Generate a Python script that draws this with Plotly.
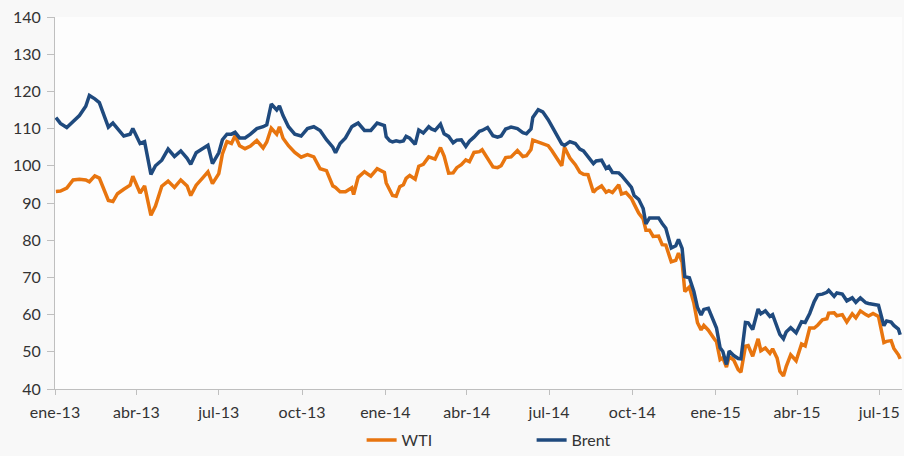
import plotly.graph_objects as go

dates_2013 = ["2013-01-02","2013-01-07","2013-01-14","2013-01-21","2013-01-28",
    "2013-02-04","2013-02-08","2013-02-14","2013-02-19","2013-02-25",
    "2013-03-01","2013-03-06","2013-03-11","2013-03-18","2013-03-25","2013-03-28",
    "2013-04-05","2013-04-10","2013-04-17","2013-04-22","2013-04-29",
    "2013-05-06","2013-05-13","2013-05-20","2013-05-27","2013-05-31",
    "2013-06-06","2013-06-13","2013-06-19","2013-06-24",
    "2013-07-01","2013-07-05","2013-07-10","2013-07-15","2013-07-19","2013-07-24","2013-07-30",
    "2013-08-05","2013-08-12","2013-08-19","2013-08-23","2013-08-28",
    "2013-09-03","2013-09-06","2013-09-10","2013-09-16","2013-09-23","2013-09-30",
    "2013-10-07","2013-10-14","2013-10-21","2013-10-28",
    "2013-11-04","2013-11-07","2013-11-12","2013-11-18","2013-11-25","2013-11-27",
    "2013-12-02","2013-12-09","2013-12-16","2013-12-23","2013-12-31"]
brent_2013 = [113.0,111.4,110.3,112.0,113.5,
    116.0,118.9,118.0,117.0,113.0,
    110.4,111.5,110.0,108.0,108.5,110.0,
    106.0,106.5,97.7,100.0,101.5,
    104.5,102.5,104.0,102.0,100.4,
    103.5,104.5,105.5,100.6,
    103.5,107.0,108.5,108.5,109.0,107.5,107.5,
    108.5,110.0,110.5,111.0,116.6,
    115.0,116.1,113.5,110.5,108.5,108.0,
    110.0,110.5,109.5,107.0,
    105.0,103.5,106.0,107.5,110.5,110.8,
    111.5,109.5,109.5,111.5,110.8]
wti_2013 = [93.1,93.2,94.0,96.2,96.4,
    96.2,95.7,97.3,96.7,93.1,
    90.7,90.4,92.5,93.7,94.8,97.2,
    92.7,94.6,86.7,89.2,94.5,
    95.9,94.2,96.2,94.6,92.0,
    94.8,96.7,98.4,95.2,
    97.9,103.2,106.5,106.0,108.1,105.4,104.6,
    105.3,106.8,104.8,106.4,110.1,
    108.5,110.5,107.4,105.4,103.6,102.3,
    103.0,102.4,99.2,98.7,
    94.6,94.2,93.0,93.0,94.1,92.3,
    96.9,98.4,97.2,99.2,98.2]

dates_2014 = ["2014-01-02","2014-01-06","2014-01-09","2014-01-13","2014-01-17","2014-01-21","2014-01-24","2014-01-28",
    "2014-02-03","2014-02-07","2014-02-12","2014-02-18","2014-02-21","2014-02-25",
    "2014-03-03","2014-03-07","2014-03-12","2014-03-17","2014-03-21","2014-03-26","2014-03-31",
    "2014-04-04","2014-04-09","2014-04-15","2014-04-18","2014-04-24","2014-04-30",
    "2014-05-05","2014-05-09","2014-05-14","2014-05-20","2014-05-27",
    "2014-06-02","2014-06-06","2014-06-11","2014-06-13","2014-06-19","2014-06-24","2014-06-30",
    "2014-07-04","2014-07-09","2014-07-15","2014-07-18","2014-07-24","2014-07-30",
    "2014-08-04","2014-08-08","2014-08-13","2014-08-19","2014-08-22","2014-08-28",
    "2014-09-02","2014-09-05","2014-09-09","2014-09-16","2014-09-19","2014-09-24","2014-09-30",
    "2014-10-03","2014-10-08","2014-10-13","2014-10-16","2014-10-20","2014-10-24","2014-10-30",
    "2014-11-03","2014-11-07","2014-11-13","2014-11-18","2014-11-21","2014-11-25","2014-11-28",
    "2014-12-03","2014-12-08","2014-12-12","2014-12-16","2014-12-19","2014-12-24","2014-12-31"]
brent_2014 = [107.8,106.7,106.4,106.7,106.5,106.7,107.9,107.4,
    105.8,109.6,108.8,110.5,109.9,109.5,
    111.2,108.6,107.9,106.2,106.9,107.0,105.2,
    106.6,107.7,109.3,109.5,110.3,108.1,
    107.7,108.0,109.9,110.4,110.0,
    108.9,108.6,109.9,113.0,115.1,114.5,112.4,
    110.6,108.3,105.9,105.5,106.5,106.0,
    104.5,104.0,102.5,100.6,101.3,101.5,
    99.3,99.8,98.2,98.1,97.4,96.0,94.2,
    92.0,91.0,88.5,84.4,86.0,86.0,86.0,
    84.5,83.2,77.9,78.5,80.2,77.8,70.2,
    69.9,66.2,61.9,59.9,61.4,61.7,57.3]
wti_2014 = [95.4,93.4,92.0,91.8,94.4,94.9,96.6,97.4,
    96.4,99.9,100.4,102.4,102.2,101.8,
    104.9,102.6,98.0,98.1,99.5,100.3,101.6,
    101.1,103.6,103.8,104.3,101.9,99.7,
    99.5,100.0,102.2,102.4,104.1,
    102.5,102.7,104.4,106.9,106.4,106.0,105.4,
    104.1,102.3,100.0,105.0,102.1,100.3,
    98.3,97.7,97.6,92.9,93.7,94.6,
    92.9,93.3,92.8,94.9,92.4,92.8,91.2,
    89.7,87.3,85.7,82.7,82.7,81.0,81.1,
    78.8,78.7,74.2,74.6,76.5,74.1,66.2,
    67.4,63.1,57.8,55.9,57.1,55.8,53.3]

dates_2015 = ["2015-01-02","2015-01-06","2015-01-09","2015-01-13","2015-01-16","2015-01-21","2015-01-26","2015-01-29",
    "2015-02-03","2015-02-06","2015-02-11","2015-02-17","2015-02-20","2015-02-25",
    "2015-03-02","2015-03-05","2015-03-10","2015-03-13","2015-03-17","2015-03-20","2015-03-25","2015-03-31",
    "2015-04-06","2015-04-10","2015-04-15","2015-04-20","2015-04-24","2015-04-29",
    "2015-05-04","2015-05-06","2015-05-12","2015-05-15","2015-05-21","2015-05-26",
    "2015-06-01","2015-06-05","2015-06-10","2015-06-16","2015-06-19","2015-06-24","2015-06-30",
    "2015-07-06","2015-07-09","2015-07-14","2015-07-17","2015-07-22","2015-07-24"]
brent_2015 = [56.4,51.1,50.1,46.6,50.2,49.0,48.2,48.1,
    57.9,57.8,56.0,61.5,60.2,61.0,
    59.5,60.0,56.4,54.7,53.5,55.3,56.5,55.1,
    58.1,57.9,60.3,63.5,65.3,65.5,
    66.0,66.5,64.9,65.8,65.5,63.7,
    64.5,63.3,64.5,63.2,63.0,62.8,62.5,
    57.0,58.3,58.0,57.1,56.1,54.6]
wti_2015 = [52.7,47.9,48.4,45.9,48.7,47.8,45.2,44.5,
    51.5,51.7,48.8,53.5,50.3,51.0,
    49.6,50.8,48.3,44.8,43.5,46.0,49.2,47.6,
    52.1,51.6,56.4,56.4,57.2,58.6,
    58.9,60.4,60.5,59.7,60.0,58.0,
    60.2,59.1,61.0,60.0,59.6,60.3,59.5,
    52.5,52.8,53.0,50.9,49.2,48.1]

dates = dates_2013 + dates_2014 + dates_2015
wti = wti_2013 + wti_2014 + wti_2015
brent = brent_2013 + brent_2014 + brent_2015

tick_dates = ["2013-01-01","2013-04-01","2013-07-01","2013-10-01","2014-01-01","2014-04-01",
              "2014-07-01","2014-10-01","2015-01-01","2015-04-01","2015-07-01"]
tick_labels = ["ene-13","abr-13","jul-13","oct-13","ene-14","abr-14",
               "jul-14","oct-14","ene-15","abr-15","jul-15"]
y_ticks = [40, 50, 60, 70, 80, 90, 100, 110, 120, 130, 140]

fig = go.Figure()
fig.add_trace(go.Scatter(x=dates, y=wti, name="WTI", mode="lines",
                         line=dict(color="#E8750F", width=3.5)))
fig.add_trace(go.Scatter(x=dates, y=brent, name="Brent", mode="lines",
                         line=dict(color="#1F4A7E", width=3.5)))

axis_font = dict(family="Lato, sans-serif", size=16, color="#333333")
fig.update_layout(
    width=904, height=456,
    margin=dict(l=55, r=2, t=17, b=67),
    paper_bgcolor="#f8f8f8", plot_bgcolor="#fdfdfd",
    showlegend=True,
    legend=dict(orientation="h", x=0.362, xanchor="left",
                yref="container", y=0.035, yanchor="middle",
                font=axis_font, entrywidth=125, bgcolor="rgba(0,0,0,0)"),
    xaxis=dict(type="date", range=["2013-01-01", "2015-07-26"],
               tickmode="array", tickvals=tick_dates, ticktext=tick_labels,
               showgrid=False, zeroline=False, showline=True, linecolor="#bfbfbf",
               linewidth=1, ticks="outside", ticklen=5, tickcolor="#bfbfbf",
               ticklabelstandoff=4, tickfont=axis_font),
    yaxis=dict(range=[40, 140], tickmode="array", tickvals=y_ticks,
               showgrid=False, zeroline=False, showline=True, linecolor="#bfbfbf",
               linewidth=1, ticks="outside", ticklen=7, tickcolor="#bfbfbf",
               ticklabelstandoff=3, tickfont=axis_font),
)
fig.write_html("out.html", config={"displayModeBar": False},
               post_script="document.body.style.margin='0';document.body.style.background='#f8f8f8';")
